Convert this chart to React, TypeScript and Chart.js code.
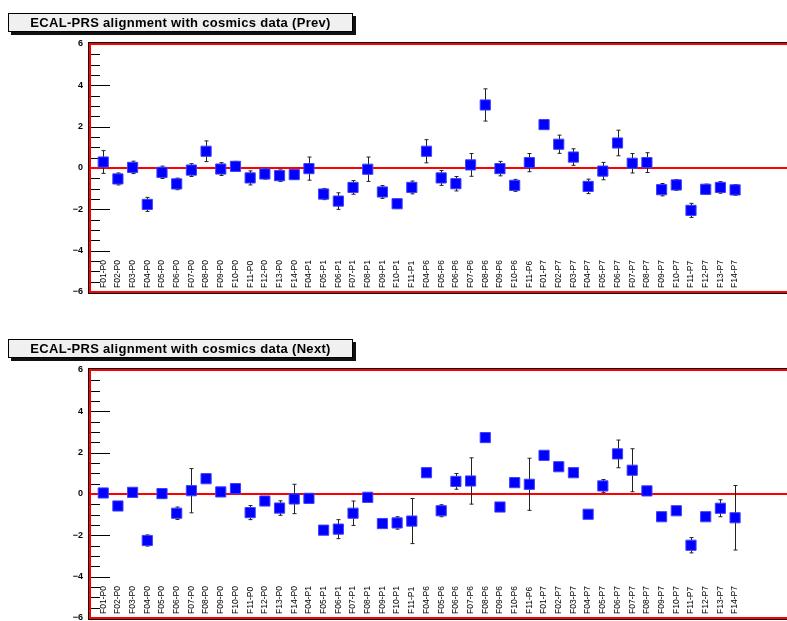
import { useEffect, useRef } from "react";
import { Chart, registerables } from "chart.js";

Chart.register(...registerables);

const channels = [
  "F01-P0", "F02-P0", "F03-P0", "F04-P0", "F05-P0", "F06-P0", "F07-P0",
  "F08-P0", "F09-P0", "F10-P0", "F11-P0", "F12-P0", "F13-P0", "F14-P0",
  "F04-P1", "F05-P1", "F06-P1", "F07-P1", "F08-P1", "F09-P1", "F10-P1", "F11-P1",
  "F04-P6", "F05-P6", "F06-P6", "F07-P6", "F08-P6", "F09-P6", "F10-P6", "F11-P6",
  "F01-P7", "F02-P7", "F03-P7", "F04-P7", "F05-P7", "F06-P7", "F07-P7",
  "F08-P7", "F09-P7", "F10-P7", "F11-P7", "F12-P7", "F13-P7", "F14-P7",
];

const prevValues = [
  0.29, -0.53, 0.03, -1.76, -0.21, -0.77, -0.1, 0.81, -0.05, 0.08, -0.48, -0.29, -0.37, -0.32,
  -0.03, -1.26, -1.6, -0.94, -0.06, -1.16, -1.73, -0.94,
  0.81, -0.48, -0.76, 0.15, 3.05, -0.03, -0.84, 0.26,
  2.1, 1.15, 0.53, -0.89, -0.15, 1.21, 0.23, 0.26, -1.05, -0.82, -2.05, -1.03, -0.94, -1.06,
];
const prevErrors = [
  0.55, 0.29, 0.3, 0.34, 0.3, 0.28, 0.31, 0.5, 0.31, 0.24, 0.34, 0.25, 0.28, 0.22,
  0.56, 0.27, 0.4, 0.33, 0.59, 0.31, 0.23, 0.31,
  0.56, 0.36, 0.35, 0.55, 0.78, 0.35, 0.29, 0.44,
  0.15, 0.44, 0.4, 0.35, 0.42, 0.62, 0.47, 0.48, 0.3, 0.26, 0.34, 0.25, 0.28, 0.26,
];

const nextValues = [
  0.05, -0.58, 0.08, -2.25, 0.02, -0.93, 0.16, 0.74, 0.1, 0.26, -0.9, -0.34, -0.68, -0.24,
  -0.21, -1.75, -1.7, -0.93, -0.16, -1.43, -1.4, -1.31,
  1.03, -0.81, 0.61, 0.63, 2.73, -0.63, 0.55, 0.47,
  1.87, 1.32, 1.03, -0.98, 0.39, 1.94, 1.15, 0.15, -1.1, -0.81, -2.48, -1.1, -0.69, -1.15,
];
const nextErrors = [
  0.1, 0.1, 0.2, 0.27, 0.23, 0.3, 1.07, 0.15, 0.1, 0.1, 0.34, 0.1, 0.35, 0.71,
  0.1, 0.1, 0.46, 0.59, 0.1, 0.15, 0.3, 1.09,
  0.12, 0.29, 0.38, 1.12, 0.12, 0.1, 0.12, 1.26,
  0.15, 0.1, 0.1, 0.15, 0.31, 0.67, 1.04, 0.12, 0.1, 0.15, 0.37, 0.15, 0.41, 1.56,
];

const FONT = "'Liberation Sans', Arial, Helvetica, sans-serif";

// ROOT-like frame: red border, inner ticks, zero line, error bars, vertical bin labels
const rootStyle = {
  id: "rootStyle",
  beforeDatasetsDraw(chart: any, _args: any, opts: any) {
    const { ctx, chartArea: a, scales } = chart;
    const x = scales.x;
    const y = scales.y;
    const errs: number[] = opts.errors;
    const vals: number[] = opts.values;
    ctx.save();

    // inner y ticks
    ctx.strokeStyle = "#000";
    ctx.lineWidth = 1;
    for (let v = -5.5; v < 6; v += 0.5) {
      const py = Math.round(y.getPixelForValue(v)) + 0.5;
      const len = v % 2 === 0 ? 20 : 10;
      ctx.beginPath();
      ctx.moveTo(a.left, py);
      ctx.lineTo(a.left + len, py);
      ctx.stroke();
    }

    // zero line
    const y0 = y.getPixelForValue(0);
    ctx.strokeStyle = "#ff0000";
    ctx.lineWidth = 2;
    ctx.beginPath();
    ctx.moveTo(a.left, y0);
    ctx.lineTo(a.right, y0);
    ctx.stroke();

    // error bars
    ctx.strokeStyle = "#222";
    ctx.lineWidth = 1;
    vals.forEach((v, i) => {
      const px = Math.round(x.getPixelForValue(i)) + 0.5;
      const top = y.getPixelForValue(v + errs[i]);
      const bot = y.getPixelForValue(v - errs[i]);
      ctx.beginPath();
      ctx.moveTo(px, top);
      ctx.lineTo(px, bot);
      ctx.moveTo(px - 2, top);
      ctx.lineTo(px + 2, top);
      ctx.moveTo(px - 2, bot);
      ctx.lineTo(px + 2, bot);
      ctx.stroke();
    });

    // vertical bin labels
    ctx.fillStyle = "#000";
    ctx.font = `8.5px ${FONT}`;
    channels.forEach((c, i) => {
      ctx.save();
      ctx.translate(x.getPixelForValue(i), a.bottom - 4);
      ctx.rotate(-Math.PI / 2);
      ctx.textAlign = "left";
      ctx.textBaseline = "middle";
      ctx.fillText(c, 0, 0);
      ctx.restore();
    });

    // frame
    ctx.strokeStyle = "#000";
    ctx.lineWidth = 1;
    ctx.strokeRect(a.left - 1.5, a.top - 1.5, a.right - a.left + 3, a.bottom - a.top + 3);
    ctx.strokeStyle = "#ff0000";
    ctx.lineWidth = 2;
    ctx.strokeRect(a.left, a.top, a.right - a.left, a.bottom - a.top);
    ctx.restore();
  },
};

interface PanelProps {
  title: string;
  values: number[];
  errors: number[];
  top: number;
}

function Panel({ title, values, errors, top }: PanelProps) {
  const canvasRef = useRef<HTMLCanvasElement>(null);
  const chartRef = useRef<Chart | null>(null);

  useEffect(() => {
    if (!canvasRef.current) return;
    chartRef.current?.destroy();

    chartRef.current = new Chart(canvasRef.current, {
      type: "scatter",
      data: {
        datasets: [
          {
            data: values.map((v, i) => ({ x: i, y: v })),
            pointStyle: "rect",
            pointRadius: 7.2,
            backgroundColor: "#0000ff",
            borderColor: "#4040ff",
            borderWidth: 1,
          },
        ],
      },
      options: {
        animation: false,
        responsive: true,
        maintainAspectRatio: false,
        layout: { padding: { top: 44, bottom: 18, left: 0, right: 5 } },
        plugins: {
          legend: { display: false },
          tooltip: { enabled: false },
          // @ts-ignore
          rootStyle: { values, errors },
        },
        scales: {
          x: {
            type: "linear",
            min: -0.9,
            max: 46.86,
            display: false,
          },
          y: {
            min: -6,
            max: 6,
            border: { display: false },
            grid: { display: false, drawTicks: false },
            afterFit: (scale: any) => {
              scale.width = 90;
            },
            ticks: {
              stepSize: 2,
              padding: 7,
              color: "#000",
              font: { family: FONT, size: 9, weight: "bold" },
              callback: (v: any) => String(v).replace("-", "\u2212"),
            },
          },
        },
      },
      plugins: [rootStyle],
    });

    return () => {
      chartRef.current?.destroy();
    };
  }, [values, errors]);

  return (
    <div style={{ position: "absolute", left: 0, top, width: 800, height: 310 }}>
      <canvas ref={canvasRef} />
      <div
        style={{
          position: "absolute",
          left: 8,
          top: 13,
          width: 345,
          height: 19,
          boxSizing: "border-box",
          border: "1px solid #000",
          background: "#f0f0f0",
          boxShadow: "3px 3px 0 #111",
          font: `bold 13px ${FONT}`,
          letterSpacing: "0.3px",
          lineHeight: "17px",
          textAlign: "center",
          color: "#000",
          whiteSpace: "nowrap",
        }}
      >
        {title}
      </div>
    </div>
  );
}

export default function App() {
  return (
    <div
      style={{
        position: "absolute",
        left: 0,
        top: 0,
        width: 787,
        height: 621,
        overflow: "hidden",
        background: "#fff",
      }}
    >
      <Panel title="ECAL-PRS alignment with cosmics data (Prev)" values={prevValues} errors={prevErrors} top={0} />
      <Panel title="ECAL-PRS alignment with cosmics data (Next)" values={nextValues} errors={nextErrors} top={326} />
    </div>
  );
}
